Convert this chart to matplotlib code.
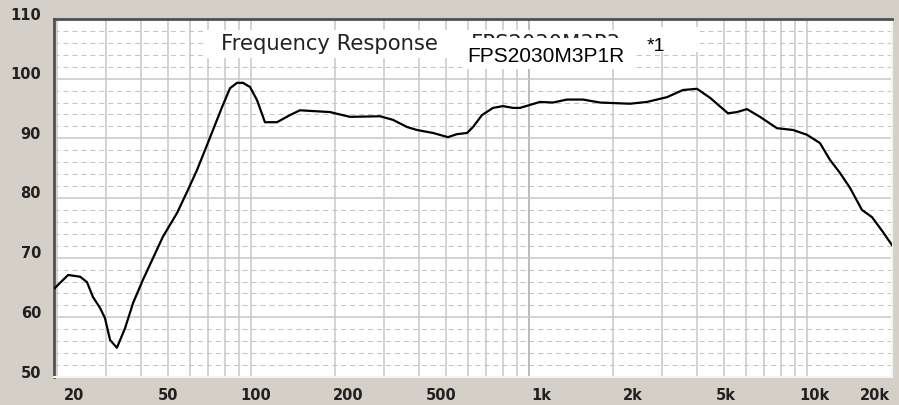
import matplotlib
matplotlib.use("Agg")
import matplotlib.pyplot as plt
from matplotlib.patches import Rectangle
import numpy as np

# ---- data ----
freq_hz = [19.6, 21.9, 24.2, 25.6, 26.9, 28.5, 29.7, 31.0, 32.8, 35.1, 37.5, 40.7,
           43.9, 48.0, 54.0, 58.6, 63.7, 68.0, 72.7, 78.3, 83.7, 88.7, 93.2, 98.8,
           104.7, 111.8, 123.5, 137.6, 149.4, 191.6, 226.1, 289.9, 322.8, 362.6,
           393.8, 449.7, 509.1, 548.6, 596.1, 626.5, 674.8, 739.2, 803.1, 872.2,
           924.4, 1004, 1091, 1215, 1364, 1557, 1793, 2298, 2646, 3124, 3566, 4005,
           4460, 5176, 5578, 6058, 6748, 7768, 8868, 9958, 11092, 12044, 13089,
           14222, 15704, 17061, 18689, 20137]
spl_db = [64.9, 67.1, 66.8, 65.9, 63.4, 61.6, 59.9, 56.2, 54.9, 58.2, 62.4, 66.3,
          69.6, 73.5, 77.5, 81.0, 84.7, 88.0, 91.4, 95.2, 98.4, 99.3, 99.3, 98.6,
          96.4, 92.7, 92.7, 93.9, 94.7, 94.4, 93.6, 93.7, 93.1, 91.9,
          91.4, 90.9, 90.2, 90.7, 90.9, 91.9, 93.9, 95.1, 95.4, 95.1,
          95.1, 95.6, 96.1, 96.0, 96.5, 96.5, 96.0, 95.8, 96.1, 96.9, 98.1, 98.3,
          96.8, 94.2, 94.4, 94.9, 93.6, 91.7, 91.4, 90.6, 89.2, 86.4, 84.2,
          81.7, 78.0, 76.8, 74.3, 72.1]

x_tick_labels = ["20", "50", "100", "200", "500", "1k", "2k", "5k", "10k", "20k"]
y_tick_values = [50, 60, 70, 80, 90, 100, 110]
title_text = "Frequency Response"
hidden_text = "FPS2030M3P3"
model_text = "FPS2030M3P1R"
note_text = "*1"

# ---- layout ----
W, H = 899, 405
BG = "#d4d0c8"
# label centres (in Hz-equivalent positions, as placed in the reference)
x_label_pos = [22.98, 50.07, 103.8, 222.4, 480.6, 1100, 2356, 5091, 10554, 17490]
ax_left, ax_right, ax_top, ax_bottom = 54, 892, 19, 377
f_min, f_max = 19.48, 20140

fig = plt.figure(figsize=(W / 100, H / 100), dpi=100, facecolor=BG)
ax = fig.add_axes([ax_left / W, 1 - ax_bottom / H,
                   (ax_right - ax_left) / W, (ax_bottom - ax_top) / H])
ax.set_facecolor("white")
ax.set_xscale("log")
ax.set_xlim(f_min, f_max)
ax.set_ylim(50, 110)
ax.set_xticks([])
ax.set_yticks([])
ax.minorticks_off()

# grid
vgrid = [k * 10 ** n for n in (1, 2, 3) for k in range(2, 10)] + [100, 1000, 10000]
for v in sorted(set(vgrid)):
    c = "#a8a8a8" if v == 1000 else "#c8c8c8"
    ax.axvline(v, color=c, lw=1.1, zorder=1)
for yv in range(52, 110, 2):
    if yv % 10 == 0:
        ax.axhline(yv, color="#c8c8c8", lw=1.1, zorder=1)
    else:
        ax.axhline(yv, color="#c4c4c4", lw=0.75, dashes=(4.8, 3.8), zorder=1)

# spines (sunken look)
for s in ("left", "top"):
    ax.spines[s].set_color("#505050")
    ax.spines[s].set_linewidth(2.0)
for s in ("right", "bottom"):
    ax.spines[s].set_color("#f4f4f4")
    ax.spines[s].set_linewidth(1.5)

# curve
ax.plot(freq_hz, spl_db, color="black", lw=1.6, zorder=5)

def fx(px):
    return px / W

def fy(py):
    return 1 - py / H

# white label backgrounds
for (x0, y0, x1, y1) in [(205, 30, 633, 58), (633, 27, 700, 52)]:
    ax.add_patch(Rectangle((fx(x0), fy(y1)), fx(x1) - fx(x0), fy(y0) - fy(y1),
                           transform=fig.transFigure, facecolor="white",
                           edgecolor="none", zorder=2))

fig.text(fx(221), fy(50), title_text, fontsize=15.2, color="#222222",
         family="DejaVu Sans", ha="left", va="baseline", zorder=3)
ax.text(fx(471), fy(50), hidden_text, fontsize=15.2, color="#222222",
        family="DejaVu Sans", ha="left", va="baseline", zorder=3,
        transform=fig.transFigure)
ax.add_patch(Rectangle((fx(465), fy(69)), fx(633) - fx(465), fy(38) - fy(69),
                       transform=fig.transFigure, facecolor="white",
                       edgecolor="none", zorder=4))
ax.text(fx(467), fy(62), model_text, fontsize=15, color="black",
        family="Liberation Sans", ha="left", va="baseline", zorder=4.5,
        transform=fig.transFigure)
ax.text(fx(647), fy(51), note_text, fontsize=14, color="black",
        family="Liberation Sans", ha="left", va="baseline", zorder=4.5,
        transform=fig.transFigure)

# y labels
for yv in y_tick_values:
    py = ax_bottom - (yv - 50) * (ax_bottom - ax_top) / 60.0 - 4
    fig.text(fx(41), fy(py), str(yv), fontsize=10.5, color="#202020",
             family="DejaVu Sans", weight="bold", ha="right", va="center")

# x labels
for pos, lab in zip(x_label_pos, x_tick_labels):
    frac = (np.log10(pos) - np.log10(f_min)) / (np.log10(f_max) - np.log10(f_min))
    px = ax_left + frac * (ax_right - ax_left)
    fig.text(fx(px), fy(395), lab, fontsize=10.5, color="#202020",
             family="DejaVu Sans", weight="bold", ha="center", va="center")

fig.savefig("out.png", dpi=100, facecolor=BG)
